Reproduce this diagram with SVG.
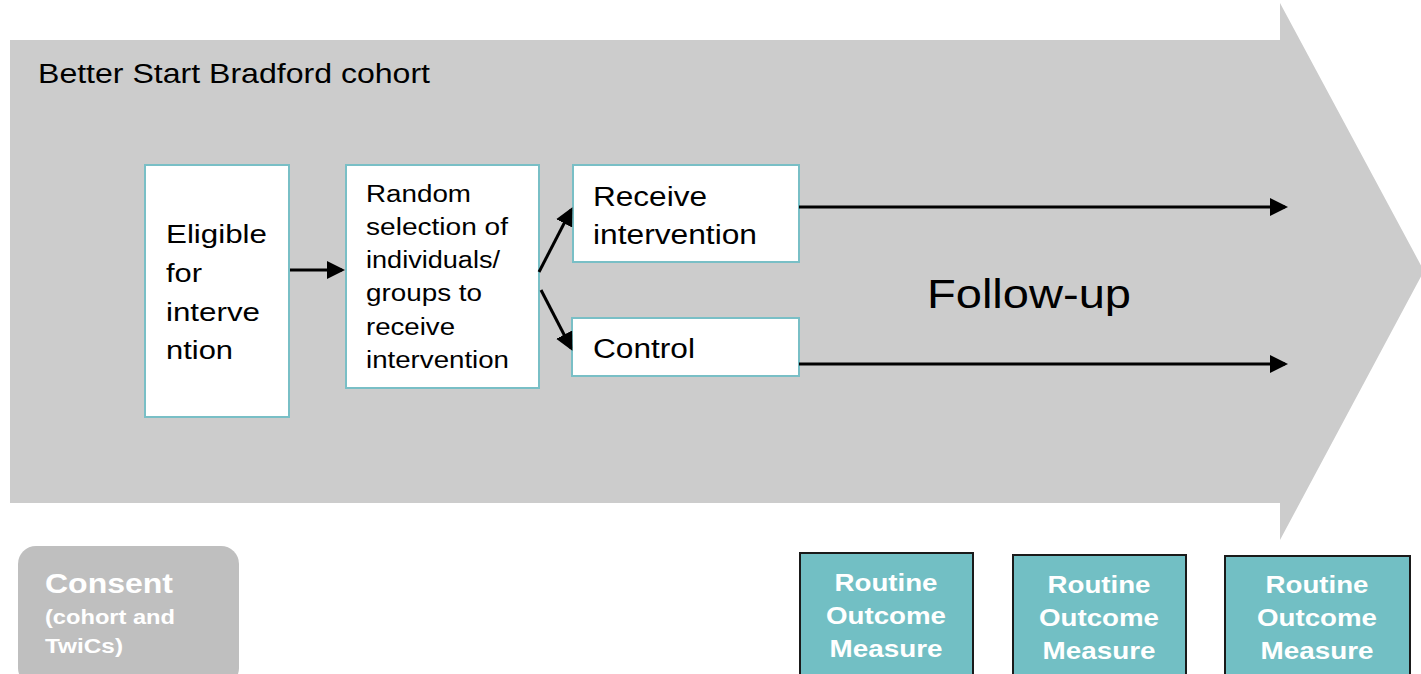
<svg xmlns="http://www.w3.org/2000/svg" width="1421" height="674" viewBox="0 0 1421 674">
<style>
.box{fill:#ffffff;stroke:#79bfc6;stroke-width:2}
.t{font-family:"Liberation Sans",Arial,sans-serif;fill:#000}
.rom{fill:#72bfc4;stroke:#1a1a1a;stroke-width:2}
.w{font-family:"Liberation Sans",Arial,sans-serif;fill:#fff;font-weight:bold}
.c{stroke:#000;stroke-width:3;fill:none}
tspan,text{white-space:pre}
</style>
<defs>
<marker id="ah" markerWidth="6" markerHeight="6" refX="5" refY="3" orient="auto" markerUnits="strokeWidth">
<path d="M0,0 L6,3 L0,6 Z" fill="#000"/>
</marker>
</defs>
<g id="cohort-arrow">
<polygon points="10,40 1280,40 1280,3 1424,271 1280,540 1280,503 10,503" fill="#cccccc"/>
<text class="t" x="38" y="83" font-size="27.5" textLength="392" lengthAdjust="spacingAndGlyphs">Better Start Bradford cohort</text>
<text class="t" x="927" y="308" font-size="40" textLength="204" lengthAdjust="spacingAndGlyphs">Follow-up</text>
</g>
<g id="eligible">
<rect class="box" x="145" y="165" width="144" height="252"/>
<text class="t" font-size="26.5" lengthAdjust="spacingAndGlyphs"><tspan x="166" y="243" textLength="101" lengthAdjust="spacingAndGlyphs">Eligible</tspan><tspan x="166" y="282" textLength="36" lengthAdjust="spacingAndGlyphs">for</tspan><tspan x="166" y="321" textLength="94" lengthAdjust="spacingAndGlyphs">interve</tspan><tspan x="166" y="359" textLength="67" lengthAdjust="spacingAndGlyphs">ntion</tspan></text>
</g>
<g id="random">
<rect class="box" x="346" y="165" width="193" height="223"/>
<text class="t" font-size="23.5"><tspan x="366" y="202" textLength="105" lengthAdjust="spacingAndGlyphs">Random</tspan><tspan x="366" y="235" textLength="142" lengthAdjust="spacingAndGlyphs">selection of</tspan><tspan x="366" y="268" textLength="134" lengthAdjust="spacingAndGlyphs">individuals/</tspan><tspan x="366" y="301" textLength="116" lengthAdjust="spacingAndGlyphs">groups to</tspan><tspan x="366" y="335" textLength="89" lengthAdjust="spacingAndGlyphs">receive</tspan><tspan x="366" y="368" textLength="143" lengthAdjust="spacingAndGlyphs">intervention</tspan></text>
</g>
<g id="receive">
<rect class="box" x="573" y="165" width="226" height="97"/>
<text class="t" font-size="27"><tspan x="593" y="206" textLength="114" lengthAdjust="spacingAndGlyphs">Receive</tspan><tspan x="593" y="244" textLength="164" lengthAdjust="spacingAndGlyphs">intervention</tspan></text>
</g>
<g id="control">
<rect class="box" x="572" y="318" width="227" height="58"/>
<text class="t" font-size="27" x="593" y="358" textLength="102" lengthAdjust="spacingAndGlyphs">Control</text>
</g>
<g id="connectors">
<line class="c" x1="290" y1="270" x2="342" y2="270" marker-end="url(#ah)"/>
<line class="c" x1="539" y1="272" x2="571" y2="210" marker-end="url(#ah)"/>
<line class="c" x1="541" y1="290" x2="571" y2="348" marker-end="url(#ah)"/>
<line class="c" x1="799" y1="207" x2="1285" y2="207" marker-end="url(#ah)"/>
<line class="c" x1="799" y1="364" x2="1285" y2="364" marker-end="url(#ah)"/>
</g>
<g id="consent">
<rect x="18" y="546" width="221" height="140" rx="18" fill="#bfbfbf"/>
<text class="w" x="45" y="593" font-size="27" textLength="128" lengthAdjust="spacingAndGlyphs">Consent</text>
<text class="w" font-size="20"><tspan x="45" y="624" textLength="130" lengthAdjust="spacingAndGlyphs">(cohort and</tspan><tspan x="45" y="653" textLength="78" lengthAdjust="spacingAndGlyphs">TwiCs)</tspan></text>
</g>
<g id="rom1">
<rect class="rom" x="800" y="553" width="173" height="130"/>
<text class="w" font-size="24.5" text-anchor="middle"><tspan x="886" y="591" textLength="103" lengthAdjust="spacingAndGlyphs">Routine</tspan><tspan x="886" y="624" textLength="120" lengthAdjust="spacingAndGlyphs">Outcome</tspan><tspan x="886" y="657" textLength="113" lengthAdjust="spacingAndGlyphs">Measure</tspan></text>
</g>
<g id="rom2">
<rect class="rom" x="1013" y="555" width="173" height="130"/>
<text class="w" font-size="24.5" text-anchor="middle"><tspan x="1099" y="593" textLength="103" lengthAdjust="spacingAndGlyphs">Routine</tspan><tspan x="1099" y="626" textLength="120" lengthAdjust="spacingAndGlyphs">Outcome</tspan><tspan x="1099" y="659" textLength="113" lengthAdjust="spacingAndGlyphs">Measure</tspan></text>
</g>
<g id="rom3">
<rect class="rom" x="1225" y="556" width="185" height="130"/>
<text class="w" font-size="24.5" text-anchor="middle"><tspan x="1317" y="593" textLength="103" lengthAdjust="spacingAndGlyphs">Routine</tspan><tspan x="1317" y="626" textLength="120" lengthAdjust="spacingAndGlyphs">Outcome</tspan><tspan x="1317" y="659" textLength="113" lengthAdjust="spacingAndGlyphs">Measure</tspan></text>
</g>
</svg>
